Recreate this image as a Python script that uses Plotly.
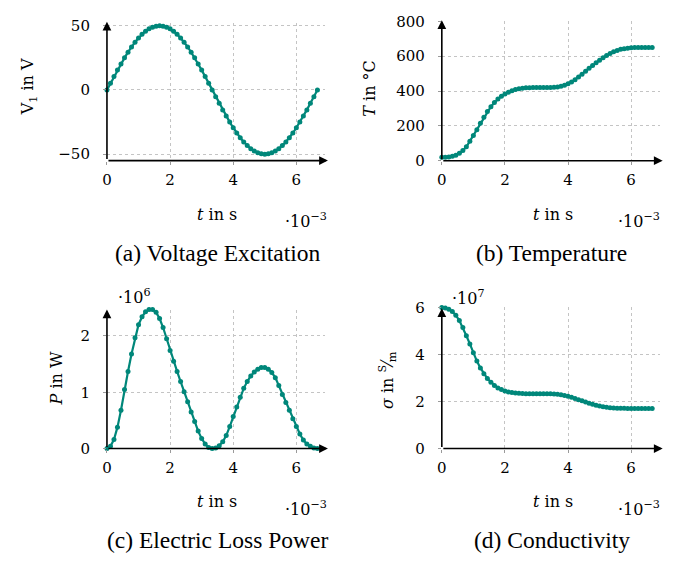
import plotly.graph_objects as go

# ---------------- data ----------------
t_ms = [0.000, 0.111, 0.222, 0.333, 0.444, 0.556, 0.667, 0.778, 0.889, 1.000,
        1.111, 1.222, 1.333, 1.444, 1.556, 1.667, 1.778, 1.889, 2.000, 2.111,
        2.222, 2.333, 2.444, 2.556, 2.667, 2.778, 2.889, 3.000, 3.111, 3.222,
        3.333, 3.444, 3.556, 3.667, 3.778, 3.889, 4.000, 4.111, 4.222, 4.333,
        4.444, 4.556, 4.667, 4.778, 4.889, 5.000, 5.111, 5.222, 5.333, 5.444,
        5.556, 5.667, 5.778, 5.889, 6.000, 6.111, 6.222, 6.333, 6.444, 6.556,
        6.667]

voltage_V = [0, 5.2, 10.4, 15.5, 20.3, 25.0, 29.4, 33.5, 37.2, 40.5,
             43.3, 45.7, 47.6, 48.9, 49.7, 50.0, 49.7, 48.9, 47.6, 45.7,
             43.3, 40.5, 37.2, 33.5, 29.4, 25.0, 20.3, 15.5, 10.4, 5.2,
             0, -5.2, -10.4, -15.5, -20.3, -25.0, -29.4, -33.5, -37.2, -40.5,
             -43.3, -45.7, -47.6, -48.9, -49.7, -50.0, -49.7, -48.9, -47.6, -45.7,
             -43.3, -40.5, -37.2, -33.5, -29.4, -25.0, -20.3, -15.5, -10.4, -5.2,
             0]

temperature_C = [20, 20, 21, 25, 32, 43, 58, 80, 112, 145,
                 177, 215, 250, 282, 310, 334, 354, 370, 383, 393,
                 401, 408, 413, 416, 418, 419, 420, 420, 420, 420,
                 420, 420, 421, 423, 427, 433, 441, 452, 465, 480,
                 496, 513, 530, 546, 562, 577, 591, 604, 615, 625,
                 633, 639, 643, 646, 648, 649, 649, 649, 649, 649,
                 649]

power_MW = [0, 0.04, 0.16, 0.38, 0.68, 1.05, 1.37, 1.68, 1.97, 2.20,
            2.34, 2.43, 2.47, 2.47, 2.42, 2.31, 2.15, 1.95, 1.74, 1.55,
            1.37, 1.19, 1.01, 0.83, 0.65, 0.48, 0.31, 0.18, 0.08, 0.02,
            0.0, 0.01, 0.05, 0.12, 0.23, 0.39, 0.57, 0.74, 0.91, 1.07,
            1.19, 1.29, 1.36, 1.41, 1.44, 1.44, 1.41, 1.35, 1.26, 1.12,
            0.96, 0.82, 0.68, 0.53, 0.39, 0.26, 0.15, 0.08, 0.04, 0.01,
            0.0]

conductivity_1e7 = [6.00, 5.98, 5.93, 5.83, 5.67, 5.45, 5.15, 4.80, 4.45, 4.08,
                    3.72, 3.43, 3.18, 2.98, 2.82, 2.68, 2.58, 2.51, 2.45, 2.41,
                    2.38, 2.36, 2.35, 2.34, 2.33, 2.33, 2.33, 2.33, 2.33, 2.33,
                    2.33, 2.33, 2.32, 2.31, 2.29, 2.26, 2.22, 2.18, 2.13, 2.08,
                    2.03, 1.98, 1.93, 1.88, 1.84, 1.81, 1.78, 1.76, 1.74, 1.73,
                    1.72, 1.71, 1.71, 1.70, 1.70, 1.70, 1.70, 1.70, 1.70, 1.70,
                    1.70]

x_ticks = [0, 2, 4, 6]
ticks_a = [-50, 0, 50]
ticks_b = [0, 200, 400, 600, 800]
ticks_c = [0, 1, 2]
ticks_d = [0, 2, 4, 6]

captions = ["(a) Voltage Excitation", "(b) Temperature",
            "(c) Electric Loss Power", "(d) Conductivity"]

# ---------------- styling ----------------
W, H = 691, 566
FONT = "DejaVu Serif"
CAPFONT = "Liberation Serif"
TEAL = "#00877a"

def px(xp):
    return xp / W

def py(yp):
    return 1 - yp / H

panels = [
    dict(y=voltage_V, xd=(102.7, 322.1), yd=(14.65, 156.6), yr=[-55, 52], yt=ticks_a, xtip=7.0, ytip=53.2),
    dict(y=temperature_C, xd=(440, 659.3), yd=(12.7, 156.7), yr=[0, 800], yt=ticks_b, xtip=7.0, ytip=806),
    dict(y=power_MW, xd=(102.7, 322.1), yd=(310.4, 454), yr=[0, 2.47], yt=ticks_c, xtip=7.0, ytip=2.47),
    dict(y=conductivity_1e7, xd=(440, 659.3), yd=(308.3, 454), yr=[0, 6.0], yt=ticks_d, xtip=7.0, ytip=5.97),
]

fig = go.Figure()
annotations = []
layout = {}

for k, p in enumerate(panels):
    n = "" if k == 0 else str(k + 1)
    xa, ya = "x" + n, "y" + n
    y0 = p["yr"][0]
    common = dict(showgrid=True, gridcolor="#c4c4c4", griddash="dot", gridwidth=1,
                  zeroline=False, showline=False, ticks="outside", ticklen=3,
                  tickcolor="#9a9a9a", tickwidth=1,
                  tickfont=dict(family=FONT, size=15, color="black"))
    layout["xaxis" + n] = dict(domain=[px(p["xd"][0]), px(p["xd"][1])], range=[0, 6.9],
                               anchor=ya, tickvals=x_ticks, ticklabelstandoff=2, **common)
    layout["yaxis" + n] = dict(domain=[py(p["yd"][1]), py(p["yd"][0])], range=p["yr"],
                               anchor=xa, tickvals=p["yt"], ticklabelstandoff=10, **common)
    fig.add_trace(go.Scatter(
        x=t_ms, y=p["y"], xaxis=xa, yaxis=ya, mode="lines+markers",
        line=dict(color=TEAL, width=2.2), marker=dict(color=TEAL, size=5),
        showlegend=False, cliponaxis=False))
    # axis arrows
    for (hx, hy) in [(p["xtip"], y0), (0, p["ytip"])]:
        annotations.append(dict(x=hx, y=hy, ax=0, ay=y0, xref=xa, yref=ya,
                                axref=xa, ayref=ya, text="", showarrow=True,
                                arrowhead=2, arrowsize=1.1, arrowwidth=1.6,
                                arrowcolor="black", standoff=0, startstandoff=0))

def text(x, y, s, size=16, angle=0, family=FONT):
    annotations.append(dict(x=px(x), y=py(y), xref="paper", yref="paper", text=s,
                            showarrow=False, xanchor="center", yanchor="middle",
                            textangle=angle, font=dict(family=family, size=size, color="black")))

# y-axis titles
text(24, 80, "V<sub>1</sub> in V", angle=-90)
text(367, 82, "<i>T</i> in °C", angle=-90)
text(52, 382, "<i>P</i> in W", angle=-90)
text(386, 383, "<i>σ</i> in <sup>S</sup>⁄<sub>m</sub>", angle=-90)

# x-axis titles and exponents
for cx, cy in [(214, 212), (552, 212), (214, 509), (552, 509)]:
    text(cx, cy, "<i>t</i> in s")
for cx, cy in [(303, 218), (639, 218), (303, 516), (639, 516)]:
    text(cx, cy, "·10<sup>−3</sup>")
text(130, 297, "·10<sup>6</sup>")
text(467, 298, "·10<sup>7</sup>")

# captions
for (cx, cy), s in zip([(215, 252), (550, 252), (214, 548), (551, 548)], captions):
    text(cx, cy, s, size=23.5, family=CAPFONT)

fig.update_layout(width=W, height=H, margin=dict(l=0, r=0, t=0, b=0),
                  paper_bgcolor="white", plot_bgcolor="white",
                  annotations=annotations, **layout)

fig.write_html("out.html")
